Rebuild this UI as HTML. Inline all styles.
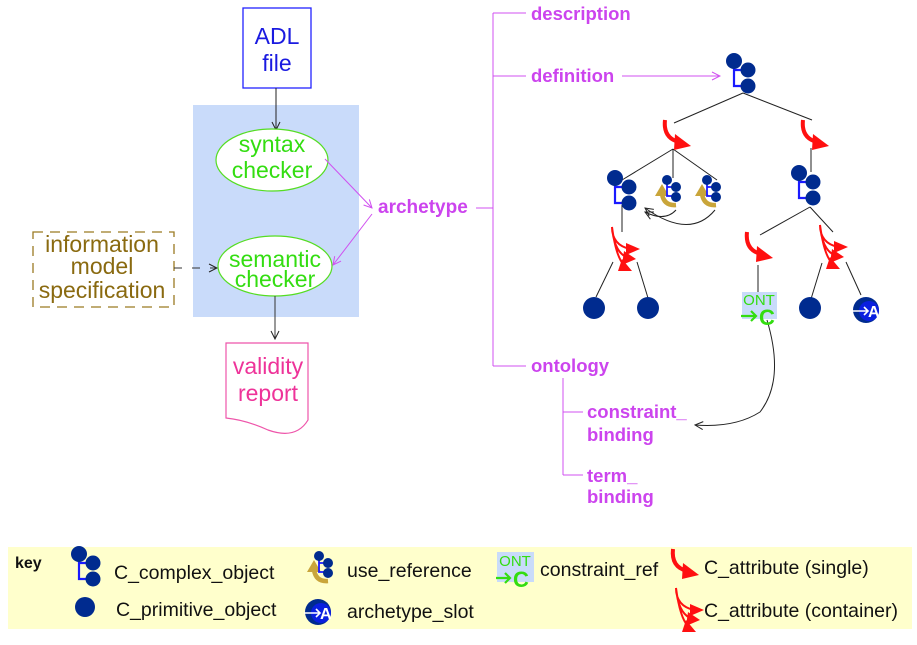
<!DOCTYPE html>
<html><head><meta charset="utf-8"><style>
html,body{margin:0;padding:0;background:#fff;width:917px;height:645px;overflow:hidden}
svg text{font-family:"Liberation Sans",Arial,sans-serif}
</style></head><body>
<svg width="917" height="645" viewBox="0 0 917 645" xmlns="http://www.w3.org/2000/svg">
<defs>
<marker id="oa" markerWidth="10" markerHeight="10" refX="9" refY="5" orient="auto" markerUnits="userSpaceOnUse"><path d="M1 1 L9 5 L1 9" fill="none" stroke="#222" stroke-width="1"/></marker>
<marker id="pa" markerWidth="10" markerHeight="10" refX="9" refY="5" orient="auto" markerUnits="userSpaceOnUse"><path d="M1 1 L9 5 L1 9" fill="none" stroke="#d050f0" stroke-width="1"/></marker>
<g id="cx">
  <path d="M0 2 V25 H12 M0 9 H12" fill="none" stroke="#1a1aff" stroke-width="2.2"/>
  <circle cx="0" cy="0" r="8" fill="#002b8f"/>
  <circle cx="14" cy="9" r="7.5" fill="#002b8f"/>
  <circle cx="14" cy="25" r="7.5" fill="#002b8f"/>
</g>
<g id="ur">
  <path d="M-2 16 Q0 28 12 27" fill="none" stroke="#c9a53a" stroke-width="4.5"/>
  <path d="M-9 18 L-2 6 L5 18 Z" fill="#c9a53a"/>
  <path d="M3 3 V18 H10 M3 9 H10" fill="none" stroke="#1a1aff" stroke-width="1.8"/>
  <circle cx="3" cy="2" r="5" fill="#002b8f"/>
  <circle cx="12" cy="9" r="5" fill="#002b8f"/>
  <circle cx="12" cy="19" r="5" fill="#002b8f"/>
</g>
<g id="sa">
  <path d="M0 0 Q-2 18 14 22" fill="none" stroke="#ff1010" stroke-width="4"/>
  <path d="M10 14 L26 26 L9 30 Z" fill="#ff1010"/>
</g>
<g id="ca">
  <path d="M0 0 Q0 18 18 22 M0 0 Q2 24 14 30 M0 0 Q4 30 12 38" fill="none" stroke="#ff1010" stroke-width="2"/>
  <path d="M14 16 L28 22 L14 28 Z M12 24 L24 32 L10 38 Z M10 32 L20 44 L6 44 Z" fill="#ff1010"/>
</g>
<g id="slot">
  <circle cx="0" cy="0" r="13" fill="#002b8f"/>
  <circle cx="3" cy="1" r="10" fill="#0a1fe0"/>
  <path d="M-14 1 H2 M-2 -3 L2 1 L-2 5" fill="none" stroke="#fff" stroke-width="1.6"/>
  <text x="2" y="7" font-size="16" font-weight="bold" fill="#fff">A</text>
</g>
</defs>

<!-- left flow -->
<rect x="243" y="8" width="68" height="80" fill="#fff" stroke="#2222ff" stroke-width="1.3"/>
<text x="277" y="44" font-size="23" fill="#1a1ae0" text-anchor="middle">ADL</text>
<text x="277" y="71" font-size="23" fill="#1a1ae0" text-anchor="middle">file</text>
<rect x="193" y="105" width="166" height="212" fill="#c9dbfa"/>
<line x1="276" y1="88" x2="276" y2="130" stroke="#222" stroke-width="1" marker-end="url(#oa)"/>
<ellipse cx="272" cy="160" rx="56" ry="31" fill="#fff" stroke="#55dd22" stroke-width="1.2"/>
<text x="272" y="152" font-size="23" fill="#33dd11" text-anchor="middle">syntax</text>
<text x="272" y="178" font-size="23" fill="#33dd11" text-anchor="middle">checker</text>
<ellipse cx="275" cy="266" rx="57" ry="30" fill="#fff" stroke="#55dd22" stroke-width="1.2"/>
<text x="275" y="267" font-size="23" fill="#33dd11" text-anchor="middle">semantic</text>
<text x="275" y="287" font-size="23" fill="#33dd11" text-anchor="middle">checker</text>
<rect x="33" y="232" width="141" height="75" fill="none" stroke="#9a7a22" stroke-width="1.3" stroke-dasharray="10,7"/>
<text x="102" y="252" font-size="23" fill="#8a6a10" text-anchor="middle">information</text>
<text x="102" y="274" font-size="23" fill="#8a6a10" text-anchor="middle">model</text>
<text x="102" y="298" font-size="23" fill="#8a6a10" text-anchor="middle">specification</text>
<line x1="174" y1="268" x2="217" y2="268" stroke="#333" stroke-width="1" stroke-dasharray="8,10" marker-end="url(#oa)"/>
<line x1="275" y1="296" x2="275" y2="339" stroke="#333" stroke-width="1" marker-end="url(#oa)"/>
<path d="M226 343 H308 V420 Q296 440 268 430 Q246 420 226 418 Z" fill="#fff" stroke="#ee55aa" stroke-width="1.2"/>
<text x="268" y="374" font-size="23" fill="#ee3399" text-anchor="middle">validity</text>
<text x="268" y="401" font-size="23" fill="#ee3399" text-anchor="middle">report</text>
<line x1="325" y1="159" x2="372" y2="208" stroke="#d050f0" stroke-width="1" marker-end="url(#pa)"/>
<line x1="372" y1="214" x2="333" y2="265" stroke="#d050f0" stroke-width="1" marker-end="url(#pa)"/>
<text x="378" y="213" font-size="19" font-weight="bold" fill="#cc44ee">archetype</text>

<!-- purple tree -->
<g stroke="#d050f0" stroke-width="1" fill="none">
<path d="M476 208 H493 M493 13 V366 M493 13 H526 M493 76 H526 M493 366 H526"/>
<path d="M563 378 V475 M563 412 H583 M563 475 H583"/>
<line x1="622" y1="76" x2="720" y2="76" marker-end="url(#pa)"/>
</g>
<g font-size="18.5" font-weight="bold" fill="#cc44ee">
<text x="531" y="20">description</text>
<text x="531" y="82">definition</text>
<text x="531" y="372">ontology</text>
<text x="587" y="418">constraint_</text>
<text x="587" y="441">binding</text>
<text x="587" y="482">term_</text>
<text x="587" y="503">binding</text>
</g>

<!-- archetype tree -->
<g stroke="#222" stroke-width="1" fill="none">
<path d="M743 93 L674 123 M743 93 L812 120"/>
<path d="M673 149 L622 180 M673 149 V178 M673 149 L717 180"/>
<path d="M622 205 V232"/>
<path d="M811 148 V172"/>
<path d="M810 207 L760 235 M810 207 L833 232"/>
<path d="M613 262 L596 297 M637 262 L648 298"/>
<path d="M758 265 V293"/>
<path d="M822 263 L811 299 M846 262 L861 295"/>
<path d="M676 210 Q665 222 645 212" marker-end="url(#oa)"/>
<path d="M715 210 Q690 240 645 208" marker-end="url(#oa)"/>
<path d="M767 320 Q785 380 760 412 Q735 428 695 425" marker-end="url(#oa)"/>
</g>
<use href="#cx" x="734" y="61"/>
<use href="#sa" x="665" y="120"/>
<use href="#sa" x="803" y="120"/>
<use href="#cx" x="615" y="178"/>
<use href="#ur" x="664" y="178"/>
<use href="#ur" x="704" y="178"/>
<use href="#cx" x="799" y="173"/>
<use href="#ca" x="612" y="227"/>
<use href="#ca" x="820" y="225"/>
<use href="#sa" x="747" y="232"/>
<circle cx="594" cy="308" r="11" fill="#002b8f"/>
<circle cx="648" cy="308" r="11" fill="#002b8f"/>
<circle cx="810" cy="308" r="11" fill="#002b8f"/>
<use href="#slot" x="866" y="310"/>
<rect x="742" y="292" width="35" height="27" fill="#c9dbfa"/>
<text x="759" y="305" font-size="15" fill="#33dd11" text-anchor="middle">ONT</text>
<path d="M741 316 H756 M751 311 L756 316 L751 321" fill="none" stroke="#33dd11" stroke-width="2.2"/>
<text x="759" y="325" font-size="22" font-weight="bold" fill="#33dd11">C</text>

<!-- key -->
<rect x="8" y="547" width="904" height="82" fill="#ffffcc"/>
<text x="15" y="568" font-size="16" font-weight="bold" fill="#111">key</text>
<use href="#cx" x="79" y="554"/>
<text x="114" y="579" font-size="19.5" fill="#111">C_complex_object</text>
<circle cx="85" cy="607" r="10" fill="#002b8f"/>
<text x="116" y="616" font-size="19.5" fill="#111">C_primitive_object</text>
<use href="#ur" x="316" y="554"/>
<text x="347" y="577" font-size="19.5" fill="#111">use_reference</text>
<use href="#slot" x="318" y="612"/>
<text x="347" y="618" font-size="19.5" fill="#111">archetype_slot</text>
<rect x="497" y="552" width="37" height="30" fill="#c9dbfa"/>
<text x="515" y="566" font-size="15" fill="#33dd11" text-anchor="middle">ONT</text>
<path d="M496 578 H510 M505 573 L510 578 L505 583" fill="none" stroke="#33dd11" stroke-width="2.2"/>
<text x="513" y="587" font-size="22" font-weight="bold" fill="#33dd11">C</text>
<text x="540" y="576" font-size="19.5" fill="#111">constraint_ref</text>
<use href="#sa" x="673" y="549"/>
<text x="704" y="574" font-size="19.5" fill="#111">C_attribute (single)</text>
<use href="#ca" x="676" y="588"/>
<text x="704" y="617" font-size="19.5" fill="#111">C_attribute (container)</text>
</svg>
</body></html>
